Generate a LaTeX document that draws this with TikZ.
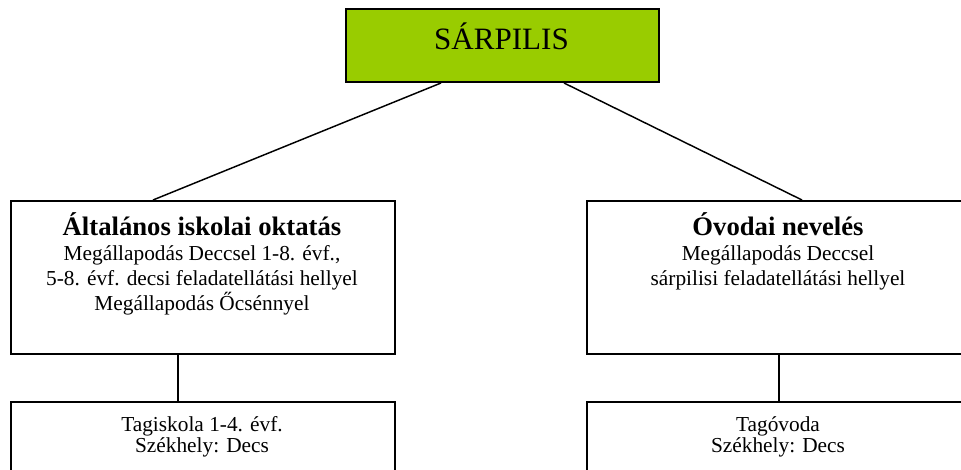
\documentclass[tikz,border=0pt]{standalone}
\usepackage{fontspec}
\setmainfont{Liberation Serif}
\usepackage{xcolor}
\usetikzlibrary{calc, positioning}
\definecolor{lime}{HTML}{99CC00}
\tikzset{box/.style={draw, line width=1.5pt, inner sep=0pt, anchor=north west},
	link/.style={line width=1.1pt},
	headtext/.style={anchor=base, font=\fontsize{20}{24}\selectfont\bfseries},
	bodytext/.style={anchor=base, align=center, font=\fontsize{16}{18.75}\selectfont},
	leaftext/.style={anchor=base, align=center, font=\fontsize{16}{15.75}\selectfont}}

\begin{document}
\begin{tikzpicture}[x=0.75pt, y=-0.75pt]
	\useasboundingbox (0,0) rectangle (961,470);
	\clip (0,0) rectangle (961,470);
	% top
	\node[box, fill=lime, minimum width=313*0.75pt, minimum height=73*0.75pt] (sarpilis) at (345,8) {};
	\node[anchor=base, font=\fontsize{23.3}{28}\selectfont] (sarpilistext) at (501.5,50) {SÁRPILIS};
	% second level (base = last line)
	\node[box, minimum width=384*0.75pt, minimum height=153*0.75pt] (iskola) at (10,200) {};
	\node[headtext] (iskolahead) at (202,236) {Általános iskolai oktatás};
	\node[bodytext] (iskolatext) at (202,311) {Megállapodás Deccsel 1-8. évf.,\\5-8. évf. decsi feladatellátási hellyel\\Megállapodás Őcsénnyel};
	\node[box, minimum width=384*0.75pt, minimum height=153*0.75pt] (ovoda) at (586,200) {};
	\node[headtext] (ovodahead) at (778,236) {Óvodai nevelés};
	\node[bodytext] (ovodatext) at (778,286) {Megállapodás Deccsel\\sárpilisi feladatellátási hellyel};
	% third level
	\node[box, minimum width=384*0.75pt, minimum height=100*0.75pt] (tagiskola) at (10,401) {};
	\node[leaftext] (tagiskolatext) at (202,452) {Tagiskola 1-4. évf.\\Székhely: Decs};
	\node[box, minimum width=384*0.75pt, minimum height=100*0.75pt] (tagovoda) at (586,401) {};
	\node[leaftext] (tagovodatext) at (778,452) {Tagóvoda\\Székhely: Decs};
	% links
	\draw[link] ($(sarpilis.south)+(-61.5,0)$) -- ($(iskola.north west)+(143,0)$);
	\draw[link] ($(sarpilis.south)+(61.5,0)$) -- ($(ovoda.north west)+(216,0)$);
	\draw[link] ($(iskola.south west)+(168,0)$) -- ($(tagiskola.north west)+(168,0)$);
	\draw[link] (ovoda.south) -- (tagovoda.north);
\end{tikzpicture}
\end{document}
